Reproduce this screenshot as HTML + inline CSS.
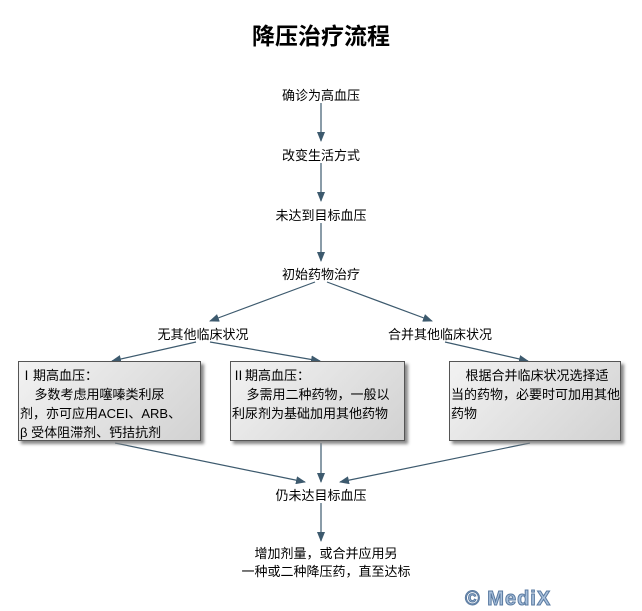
<!DOCTYPE html>
<html><head><meta charset="utf-8"><style>
body{margin:0;width:642px;height:610px;background:#fff;position:relative;font-family:"Liberation Sans","Noto Sans CJK SC",sans-serif;overflow:hidden}
.t{position:absolute;font-size:13px;color:#000;white-space:nowrap;transform:translateX(-50%)}
.box{position:absolute;top:361px;height:80px;border:1px solid #555;background:linear-gradient(135deg,#f2f2f2,#d2d2d2);box-shadow:3px 3px 3px #888;font-size:13px;line-height:19px;padding:4px 1px;box-sizing:border-box;overflow:hidden;white-space:nowrap}
svg{position:absolute;left:0;top:0}
</style></head><body>
<svg width="642" height="610"><defs><marker id="a" markerWidth="10" markerHeight="8" refX="9" refY="4" orient="auto" markerUnits="userSpaceOnUse"><path d="M0,0L10,4L0,8z" fill="#3d5a6e"/></marker></defs>
<g stroke="#3d5a6e" stroke-width="1.2" fill="none" marker-end="url(#a)">
<line x1="321" y1="103" x2="321" y2="141"/>
<line x1="321" y1="163" x2="321" y2="201"/>
<line x1="321" y1="223" x2="321" y2="261"/>
<line x1="315" y1="282" x2="210" y2="321"/>
<line x1="327" y1="282" x2="432" y2="321"/>
<line x1="196" y1="342" x2="112" y2="361"/>
<line x1="210" y1="342" x2="320" y2="361"/>
<line x1="445" y1="342" x2="528" y2="361"/>
<line x1="115" y1="443" x2="305" y2="482"/>
<line x1="321" y1="443" x2="321" y2="482"/>
<line x1="530" y1="443" x2="340" y2="482"/>
<line x1="321" y1="503" x2="321" y2="541"/>
</g></svg>
<div style="position:absolute;left:0;width:642px;top:17px;text-align:center;font-size:23px;font-weight:bold">降压治疗流程</div>
<div class="t" style="left:321px;top:85px">确诊为高血压</div>
<div class="t" style="left:321px;top:145px">改变生活方式</div>
<div class="t" style="left:321px;top:205px">未达到目标血压</div>
<div class="t" style="left:321px;top:264px">初始药物治疗</div>
<div class="t" style="left:203px;top:324px">无其他临床状况</div>
<div class="t" style="left:440px;top:324px">合并其他临床状况</div>
<div class="box" style="left:18px;width:183px">Ⅰ期高血压：<br>&nbsp;&nbsp;&nbsp;&nbsp;多数考虑用噻嗪类利尿<br>剂，亦可应用ACEI、ARB、<br>β 受体阻滞剂、钙拮抗剂</div>
<div class="box" style="left:230px;width:175px">Ⅱ期高血压：<br>&nbsp;&nbsp;&nbsp;&nbsp;多需用二种药物，一般以<br>利尿剂为基础加用其他药物</div>
<div class="box" style="left:449px;width:172px">&nbsp;&nbsp;&nbsp;&nbsp;根据合并临床状况选择适<br>当的药物，必要时可加用其他<br>药物</div>
<div class="t" style="left:321px;top:485px">仍未达目标血压</div>
<div class="t" style="left:326px;top:545px;text-align:center;line-height:18px">增加剂量，或合并应用另<br>一种或二种降压药，直至达标</div>
<div style="position:absolute;left:465px;top:588px;font-size:20px;font-weight:bold;color:#a8c0dc;-webkit-text-stroke:1px #5a7aa0;letter-spacing:1px">© MediX</div>
</body></html>
